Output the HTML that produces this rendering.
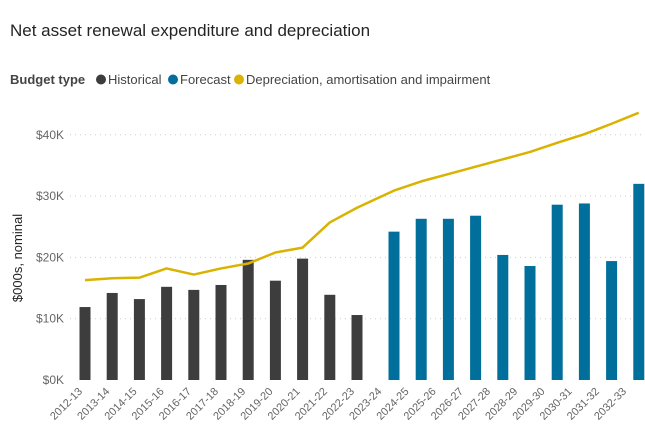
<!DOCTYPE html>
<html><head><meta charset="utf-8"><style>
body{margin:0;background:#fff;font-family:"Liberation Sans",sans-serif;}
svg{display:block}
</style></head><body>
<svg id="c" width="645" height="435">
<text x="10" y="36" font-size="17" fill="#252423">Net asset renewal expenditure and depreciation</text>
<g font-size="13" fill="#444">
<text x="10" y="84" font-weight="bold">Budget type</text>
<circle cx="101" cy="79.5" r="5" fill="#3d3d3d"/>
<text x="108" y="84">Historical</text>
<circle cx="173" cy="79.5" r="5" fill="#006f9b"/>
<text x="180" y="84">Forecast</text>
<circle cx="239" cy="79.5" r="5" fill="#d9b300"/>
<text x="246" y="84">Depreciation, amortisation and impairment</text>
</g>
<text transform="translate(22,258) rotate(-90)" text-anchor="middle" font-size="13" fill="#252423">$000s, nominal</text>
<g id="grid"></g><g id="bars"></g><g id="line"></g><g id="xl"></g>
</svg>
<script>
const categories=["2012-13","2013-14","2014-15","2015-16","2016-17","2017-18","2018-19","2019-20","2020-21","2021-22","2022-23","2023-24","2024-25","2025-26","2026-27","2027-28","2028-29","2029-30","2030-31","2031-32","2032-33"];
const historical=[11.9,14.2,13.2,15.2,14.7,15.5,19.6,16.2,19.8,13.9,10.6];
const forecast=[24.2,26.3,26.3,26.8,20.4,18.6,28.6,28.8,19.4,32.0];
const depreciation=[16.3,16.6,16.7,18.2,17.2,18.2,19.0,20.8,21.6,25.7,28.1,30.9,32.4,33.6,34.8,36.0,37.2,38.7,40.1,41.8,43.6];
const yTicks=[0,10,20,30,40];
const yTickLabels=["$0K","$10K","$20K","$30K","$40K"];
const NS="http://www.w3.org/2000/svg";
function y(v){return 380-v*6.13;}
function x(i){return i<11?85+i*27.2:394+(i-11)*27.2;}
function xlab(i){return 85+i*27.2;}
function mk(t,a,p){const e=document.createElementNS(NS,t);for(const k in a)e.setAttribute(k,a[k]);p.appendChild(e);return e;}
const g=document.getElementById('grid');
yTicks.forEach((v,i)=>{
 if(v>0){const l=mk('line',{x1:70,x2:645,y1:y(v),y2:y(v),stroke:'#ccc','stroke-dasharray':'1 4'},g);
 
 }
 const t=mk('text',{x:64,y:y(v)+4,'text-anchor':'end','font-size':12,fill:'#666'},g);
 t.textContent=yTickLabels[i];
 
 
});
const b=document.getElementById('bars');
historical.forEach((v,i)=>{
 const r=mk('rect',{x:x(i)-5.5,y:y(v),width:11,height:y(0)-y(v),fill:'#3d3d3d'},b);
 
 
});
forecast.forEach((v,j)=>{
 const i=j+11;
 const r=mk('rect',{x:x(i)-5.5,y:y(v),width:11,height:y(0)-y(v),fill:'#006f9b'},b);
 
 
});
const pl=mk('polyline',{points:depreciation.map((v,i)=>x(i)+','+y(v)).join(' '),fill:'none',stroke:'#d9b300','stroke-width':2.5,'stroke-linejoin':'round'},document.getElementById('line'));


const xl=document.getElementById('xl');
categories.forEach((c,i)=>{
 const t=mk('text',{transform:'translate('+(xlab(i)-2)+',392) rotate(-45)','text-anchor':'end','font-size':11,fill:'#666'},xl);
 t.textContent=c;
 
 
});
</script>
</body></html>
